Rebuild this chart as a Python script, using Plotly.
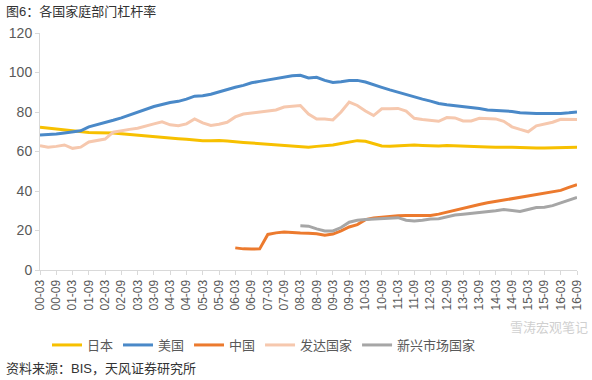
import plotly.graph_objects as go

# Quarterly categories 00-03 ... 16-09
quarters = [f"{y:02d}-{m:02d}" for y in range(0, 17) for m in (3, 6, 9, 12)][:67]
tick_labels = [q for q in quarters if q.endswith("-03") or q.endswith("-09")]

japan = [72.3, 71.8, 71.4, 71.0, 70.3, 69.8, 69.6, 69.5, 69.5, 69.4, 69.0, 68.6, 68.2, 68.0, 67.7, 67.2,
         66.8, 66.5, 66.2, 65.8, 65.5, 65.5, 65.6, 65.3, 64.8, 64.6, 64.3, 64.0, 63.7, 63.3, 63.0, 62.6,
         62.2, 62.2, 62.6, 62.9, 63.3, 64.0, 64.8, 65.5, 65.2, 64.0, 62.8, 62.6, 62.8, 63.0, 63.3, 63.1,
         62.8, 62.8, 63.0, 62.8, 62.6, 62.7, 62.5, 62.3, 62.2, 62.0, 62.1, 62.0, 61.8, 61.8, 61.8, 61.9,
         62.0, 62.0, 62.1]
usa = [68.4, 68.6, 68.9, 69.4, 69.8, 70.5, 72.5, 73.5, 74.5, 75.8, 77.0, 78.5, 80.0, 81.5, 82.8, 83.8,
       84.8, 85.4, 86.5, 88.0, 88.2, 89.0, 90.2, 91.5, 92.5, 93.5, 94.8, 95.5, 96.2, 97.0, 97.8, 98.3,
       98.6, 97.2, 97.6, 96.0, 95.0, 95.3, 96.0, 96.0, 95.2, 94.0, 92.5, 91.2, 90.0, 88.8, 87.5, 86.5,
       85.5, 84.3, 83.7, 83.3, 82.7, 82.2, 81.8, 81.0, 80.8, 80.6, 80.3, 79.6, 79.3, 79.2, 79.2, 79.1,
       79.3, 79.6, 80.0]
china = [None] * 24 + [11.2, 10.7, 10.6, 10.7, 18.0, 18.8, 19.2, 18.8, 18.7, 18.6, 18.4, 17.6, 18.2, 19.8,
                       21.8, 23.0, 25.5, 26.3, 26.8, 27.2, 27.5, 27.6, 27.7, 27.6, 27.6, 28.3, 29.3, 30.3,
                       31.5, 32.3, 33.2, 34.0, 34.7, 35.3, 36.0, 36.7, 37.3, 38.0, 38.7, 39.3, 40.3, 41.8,
                       43.2]
developed = [62.9, 62.2, 62.6, 63.3, 61.6, 62.2, 64.8, 65.6, 66.3, 69.8, 70.6, 71.2, 71.8, 73.0, 74.0, 75.0,
             73.5, 73.0, 74.0, 76.5, 74.5, 73.2, 73.8, 74.8, 77.5, 79.0, 79.5, 80.2, 80.5, 81.0, 82.5, 83.0,
             83.3, 79.0, 76.5, 76.5, 76.0, 80.0, 85.0, 83.3, 80.5, 78.2, 81.6, 81.6, 81.8, 80.5, 76.8, 76.2,
             75.8, 75.3, 77.2, 77.0, 75.5, 75.5, 76.8, 76.6, 76.5, 75.3, 72.5, 71.2, 70.0, 73.0, 74.0, 74.8,
             76.3, 76.3, 76.2]
emerging = [None] * 32 + [22.4, 22.2, 20.8, 19.8, 19.8, 21.5, 24.2, 25.2, 25.6, 25.8, 26.0, 26.2, 26.5, 25.2,
                          24.8, 25.2, 25.8, 26.0, 26.8, 27.8, 28.2, 28.6, 29.0, 29.5, 30.0, 30.6, 30.0, 29.6,
                          30.6, 31.6, 31.8, 32.6, 34.0, 35.5, 36.7]

series = [
    ("日本", japan, "#F7C000"),
    ("美国", usa, "#4A89C8"),
    ("中国", china, "#EC7A2E"),
    ("发达国家", developed, "#F6C8AE"),
    ("新兴市场国家", emerging, "#A6A6A6"),
]

FONT = "Liberation Sans, Noto Sans CJK SC, sans-serif"
W, H = 592, 380

fig = go.Figure()
for name, vals, color in series:
    fig.add_trace(go.Scatter(x=quarters, y=vals, name=name, mode="lines",
                             line=dict(color=color, width=3), connectgaps=False))

fig.update_layout(
    width=W, height=H,
    margin=dict(l=40, r=15, t=33, b=110, autoexpand=False),
    paper_bgcolor="white", plot_bgcolor="white",
    font=dict(family=FONT, size=12, color="#595959"),
    showlegend=True,
    legend=dict(orientation="h", xref="container", yref="container",
                x=47 / W, xanchor="left", y=1 - 345 / H, yanchor="middle",
                font=dict(size=13, color="#595959"), itemwidth=30, tracegroupgap=0,
                bgcolor="rgba(0,0,0,0)"),
    xaxis=dict(type="category", categoryorder="array", categoryarray=quarters,
               range=[0, 66], tickmode="array", tickvals=tick_labels, ticktext=tick_labels,
               tickangle=-90, showgrid=False, showline=True, linecolor="#D9D9D9", linewidth=1,
               ticks="outside", ticklen=4, tickcolor="#D9D9D9", zeroline=False, automargin=False,
               tickfont=dict(size=12, color="#595959")),
    yaxis=dict(range=[0, 120], tickvals=[0, 20, 40, 60, 80, 100, 120], showgrid=False,
               showline=True, linecolor="#D9D9D9", linewidth=1, ticks="outside", ticklen=4,
               tickcolor="#D9D9D9", zeroline=False, automargin=False,
               tickfont=dict(size=14, color="#595959")),
)

fig.add_annotation(text="图6：各国家庭部门杠杆率", xref="paper", yref="paper", x=-36/537, y=1 + (33-11)/237,
                   xanchor="left", yanchor="middle", showarrow=False,
                   font=dict(family=FONT, size=13, color="#333333"))
fig.add_annotation(text="资料来源：BIS，天风证券研究所", xref="paper", yref="paper", x=-36/537,
                   y=-(368-270)/237, xanchor="left", yanchor="middle", showarrow=False,
                   font=dict(family=FONT, size=13, color="#333333"))
fig.add_annotation(text="雪涛宏观笔记", xref="paper", yref="paper", x=(590-40)/537,
                   y=-(327-270)/237, xanchor="right", yanchor="middle", showarrow=False,
                   font=dict(family=FONT, size=13, color="#D0D0D0"))

fig.write_html("out.html", config={"displayModeBar": False},
               post_script="document.body.style.margin='0';document.body.style.padding='0';")
